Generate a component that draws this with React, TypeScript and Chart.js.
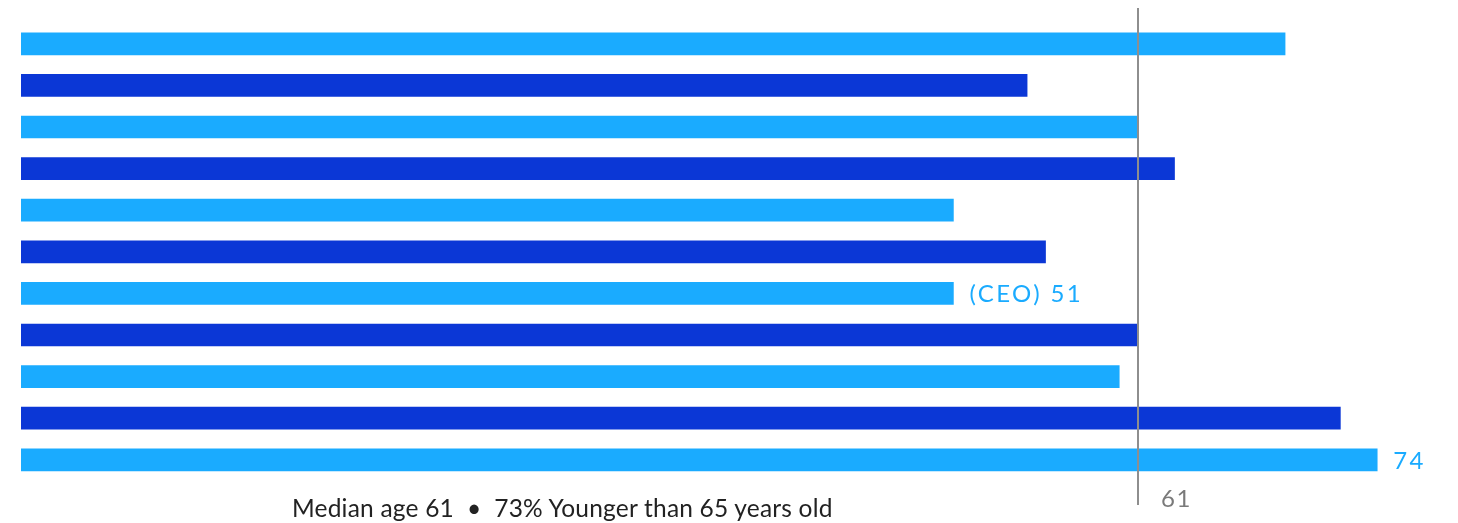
import React, { useEffect, useRef } from "react";
import { Chart, registerables } from "chart.js";

Chart.register(...registerables);

const directors = ["Director 1", "Director 2", "Director 3", "Director 4", "Director 5", "Director 6", "Director 7", "Director 8", "Director 9", "Director 10", "Director 11"];
const ages = [69, 55, 61, 63, 51, 56, 51, 61, 60, 72, 74];
const barColors = ["#1AABFF", "#0B37D6", "#1AABFF", "#0B37D6", "#1AABFF", "#0B37D6", "#1AABFF", "#0B37D6", "#1AABFF", "#0B37D6", "#1AABFF"];
const labelPrefixes = ["", "", "", "", "", "", "(CEO) ", "", "", "", ""];
const showLabel = [false, false, false, false, false, false, true, false, false, false, true];
const medianAge = 61;
const footnote = "Median age 61  \u2022  73% Younger than 65 years old";

const FONT = "Lato, 'Open Sans', sans-serif";

const overlayPlugin = {
  id: "overlay",
  afterDatasetsDraw(chart: any) {
    const ctx = chart.ctx;
    const xs = chart.scales.x;
    const meta = chart.getDatasetMeta(0);
    ctx.save();
    // value labels
    ctx.font = `24px ${FONT}`;
    (ctx as any).letterSpacing = "2.4px";
    ctx.fillStyle = "#1AABFF";
    ctx.textBaseline = "middle";
    ctx.textAlign = "left";
    meta.data.forEach((bar: any, i: number) => {
      if (!showLabel[i]) return;
      ctx.fillText(`${labelPrefixes[i]}${ages[i]}`, bar.x + 16, bar.y + 1);
    });
    // median line
    const mx = Math.round(xs.getPixelForValue(medianAge));
    ctx.strokeStyle = "#8E8E8E";
    ctx.lineWidth = 2;
    ctx.beginPath();
    ctx.moveTo(mx, 0);
    ctx.lineTo(mx, 497);
    ctx.stroke();
    (ctx as any).letterSpacing = "1.5px";
    ctx.fillStyle = "#7A7A7A";
    ctx.textBaseline = "alphabetic";
    ctx.fillText(String(medianAge), mx + 23, 499);
    ctx.restore();
  },
};

export default function App() {
  const ref = useRef<HTMLCanvasElement | null>(null);
  useEffect(() => {
    if (!ref.current) return;
    const chart = new Chart(ref.current, {
      type: "bar",
      data: {
        labels: directors,
        datasets: [
          {
            data: ages,
            backgroundColor: barColors,
            barThickness: 22,
            borderWidth: 0,
          },
        ],
      },
      options: {
        indexAxis: "y",
        animation: false,
        responsive: false,
        events: [],
        layout: { padding: { left: 13, right: 0, top: 15, bottom: 42.4 } },
        plugins: { legend: { display: false }, tooltip: { enabled: false } },
        scales: {
          x: { display: false, min: 0.4, max: 77.95, grid: { display: false } },
          y: { display: false, grid: { display: false } },
        },
      },
      plugins: [overlayPlugin],
    });
    return () => chart.destroy();
  }, []);
  return (
    <div style={{ position: "relative", width: 1442, height: 515 }}>
      <canvas ref={ref} width={1442} height={515} style={{ display: "block" }} />
      <div
        style={{
          position: "absolute",
          left: 284,
          top: 484.5,
          fontFamily: FONT,
          fontSize: 24.5,
          letterSpacing: "0.2px",
          color: "#222222",
          whiteSpace: "pre",
          lineHeight: "30px",
        }}
      >
        {footnote}
      </div>
    </div>
  );
}
